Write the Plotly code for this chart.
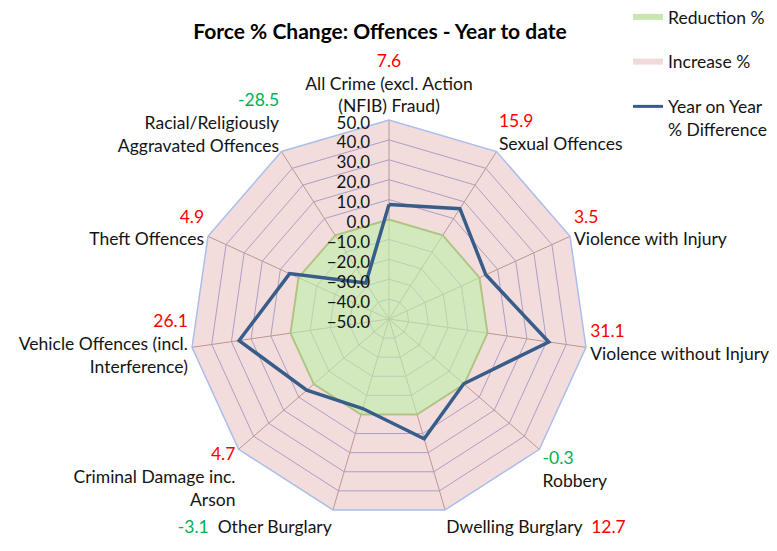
import math
import plotly.graph_objects as go

categories = [
    "All Crime (excl. Action (NFIB) Fraud)",
    "Sexual Offences",
    "Violence with Injury",
    "Violence without Injury",
    "Robbery",
    "Dwelling Burglary",
    "Other Burglary",
    "Criminal Damage inc. Arson",
    "Vehicle Offences (incl. Interference)",
    "Theft Offences",
    "Racial/Religiously Aggravated Offences",
]
label_lines = [
    "All Crime (excl. Action<br>(NFIB) Fraud)",
    "Sexual Offences",
    "Violence with Injury",
    "Violence without Injury",
    "Robbery",
    "Dwelling Burglary",
    "Other Burglary",
    "Criminal Damage inc.<br>Arson",
    "Vehicle Offences (incl.<br>Interference)",
    "Theft Offences",
    "Racial/Religiously<br>Aggravated Offences",
]
yoy_difference = [7.6, 15.9, 3.5, 31.1, -0.3, 12.7, -3.1, 4.7, 26.1, 4.9, -28.5]
reduction_bound = [0] * 11
increase_bound = [50] * 11
radial_ticks = [-50, -40, -30, -20, -10, 0, 10, 20, 30, 40, 50]

FONT = "Lato"
RED = "rgb(255,0,0)"
GREEN = "rgb(0,176,80)"
TXT = "rgb(20,20,20)"
NB = "\u00a0"

n = len(categories)
ticktext = []
for i, (lab, v) in enumerate(zip(label_lines, yoy_difference)):
    col = RED if v >= 0 else GREEN
    val = f"<span style='color:{col}'>{v:.1f}</span>"
    ang = math.radians(360 * i / n)
    vert = math.cos(ang)   # +1 at top, -1 at bottom
    right = math.sin(ang) > 0
    if vert < -0.9:
        # bottom-most spokes: value on the label's line (keeps it inside the page)
        if right:
            ticktext.append(f"{lab}{NB}{NB}{val}")
        else:
            ticktext.append(f"{val}{NB}{NB}{lab}")
    elif -0.3 < vert < 0:
        ticktext.append(f"{val}<br>{lab}<br>{NB}")
    else:
        ticktext.append(f"{val}<br>{lab}")

def closed(a):
    return list(a) + [a[0]]

fig = go.Figure()
fig.add_trace(go.Scatterpolar(
    r=closed(increase_bound), theta=closed(categories), mode="lines",
    fill="toself", fillcolor="rgba(225,170,168,0.4)",
    line=dict(color="rgba(0,0,0,0)", width=0), showlegend=False, hoverinfo="skip"))
fig.add_trace(go.Scatterpolar(
    r=closed(reduction_bound), theta=closed(categories), mode="lines",
    fill="toself", fillcolor="rgba(188,241,170,0.6)",
    line=dict(color="rgba(175,195,125,0.9)", width=2), showlegend=False, hoverinfo="skip"))
fig.add_trace(go.Scatterpolar(
    r=closed(yoy_difference), theta=closed(categories), mode="lines",
    line=dict(color="rgb(56,93,138)", width=3.5), showlegend=False,
    name="Year on Year % Difference"))

# legend entries
fig.add_trace(go.Scatterpolar(r=[None], theta=[categories[0]], mode="lines",
    line=dict(color="rgb(200,230,175)", width=6), name="Reduction %", legendgroup="a"))
fig.add_trace(go.Scatterpolar(r=[None], theta=[categories[0]], mode="lines",
    line=dict(color="rgb(240,218,218)", width=6), name="Increase %", legendgroup="b"))
fig.add_trace(go.Scatterpolar(r=[None], theta=[categories[0]], mode="lines",
    line=dict(color="rgb(56,93,138)", width=3), name="Year on Year<br>% Difference", legendgroup="c"))

# page body has an 8px margin; work in figure coordinates
W, H = 769, 543
cx, cy, R = 381, 311, 199
fig.update_layout(
    width=W, height=H,
    margin=dict(l=0, r=0, t=0, b=0, autoexpand=False),
    paper_bgcolor="white",
    font=dict(family=FONT, size=17.5, color=TXT),
    title=dict(text="<b>Force % Change: Offences - Year to date</b>",
               x=372 / W, xanchor="center", y=1 - 24 / H, yanchor="middle",
               font=dict(family=FONT, size=21, color="black")),
    legend=dict(x=620 / W, y=1 + 9 / H, xanchor="left", yanchor="top",
                font=dict(size=17.5, color=TXT),
                tracegroupgap=19, valign="top", bgcolor="rgba(0,0,0,0)"),
    polar=dict(
        domain=dict(x=[(cx - R) / W, (cx + R) / W], y=[(H - cy - R) / H, (H - cy + R) / H]),
        gridshape="linear",
        bgcolor="white",
        radialaxis=dict(range=[-50, 50], tickvals=radial_ticks, tickformat=".1f",
                        angle=90, side="counterclockwise", showline=False,
                        ticks="outside", ticklen=3, tickcolor="rgba(0,0,0,0)",
                        gridcolor="rgb(140,150,215)", gridwidth=1,
                        tickfont=dict(size=17, color=TXT)),
        angularaxis=dict(type="category", rotation=90, direction="clockwise",
                         categoryarray=categories,
                         tickvals=categories, ticktext=ticktext, ticks="",
                         showline=True, linecolor="rgb(170,190,235)", linewidth=1.5,
                         gridcolor="rgb(160,140,130)", gridwidth=1,
                         tickfont=dict(size=17.5, color=TXT)),
    ),
)
fig.write_html("out.html")
